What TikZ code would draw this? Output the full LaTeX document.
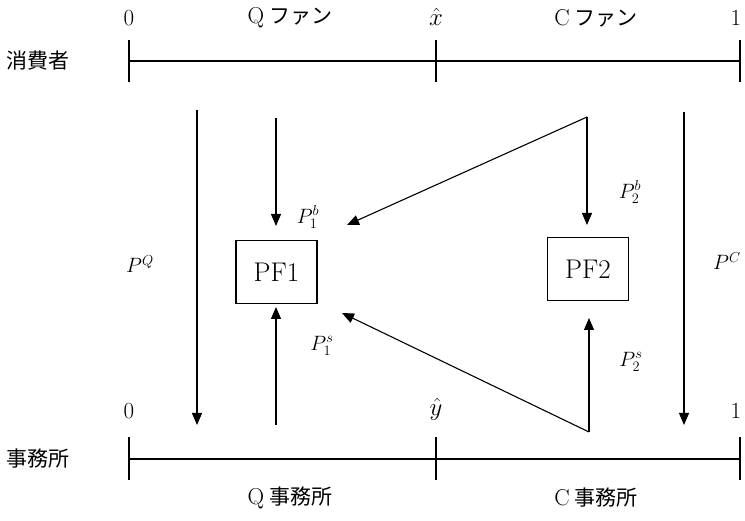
\documentclass[tikz,border=0pt]{standalone}
\usepackage{fontspec}
\newfontfamily\jp{Noto Sans CJK JP}
\usetikzlibrary{arrows.meta}
\begin{document}
\begin{tikzpicture}[x=1pt,y=-1pt,
  lbl/.style={inner sep=0pt,font=\fontsize{23}{26}\selectfont},
  jlbl/.style={inner sep=0pt,font=\fontsize{21}{24}\selectfont\jp},
  plbl/.style={inner sep=0pt,font=\fontsize{22}{24}\selectfont},
  axis/.style={line width=1.3pt},
  flow/.style={line width=1.1pt,-{Triangle[length=12pt,width=10pt]}},
  pfbox/.style={draw,line width=1.1pt,minimum width=81pt,minimum height=63pt,inner sep=0pt,font=\fontsize{27}{30}\selectfont}]
\useasboundingbox (0,0) rectangle (745,521);
% consumer axis
\coordinate (tl) at (129,61);
\coordinate (tr) at (740,61);
\draw[axis] (tl) -- (tr);
\draw[axis] (129,40) -- (129,82);
\draw[axis] (436,40) -- (436,82);
\draw[axis] (740,40) -- (740,82);
\node[lbl] (t0) at (129,18) {0};
\node[lbl] (tx) at (436,17) {$\hat{x}$};
\node[lbl] (t1) at (736,18) {1};
\node[jlbl] (qfan) at (290,18) {{\rmfamily\fontsize{23}{26}\selectfont Q}\hspace{5pt}ファン};
\node[jlbl] (cfan) at (596,18) {{\rmfamily\fontsize{23}{26}\selectfont C}\hspace{5pt}ファン};
\node[jlbl] (cons) at (38,61) {消費者};
% office axis
\coordinate (bl) at (129,459);
\coordinate (br) at (740,459);
\draw[axis] (bl) -- (br);
\draw[axis] (129,437) -- (129,480);
\draw[axis] (436,437) -- (436,480);
\draw[axis] (740,437) -- (740,480);
\node[lbl] (b0) at (129,411) {0};
\node[lbl] (by) at (436,409) {$\hat{y}$};
\node[lbl] (b1) at (736,411) {1};
\node[jlbl] (qoff) at (290,498) {{\rmfamily\fontsize{23}{26}\selectfont Q}\hspace{5pt}事務所};
\node[jlbl] (coff) at (596,498) {{\rmfamily\fontsize{23}{26}\selectfont C}\hspace{5pt}事務所};
\node[jlbl] (off) at (38,459) {事務所};
% boxes
\node[pfbox] (pf1) at (276.5,272) {PF1};
\node[pfbox] (pf2) at (588,269) {PF2};
% arrow endpoints
\coordinate (pqs) at (197,110);
\coordinate (pqe) at (197,425);
\coordinate (pcs) at (684,112);
\coordinate (pce) at (684,425);
\coordinate (a1s) at (276,118);
\coordinate (a1e) at (276,226);
\coordinate (s1s) at (276,425);
\coordinate (s1e) at (276,307);
\coordinate (apex) at (587,117);
\coordinate (a2e) at (587,225);
\coordinate (d1e) at (347,225);
\coordinate (bot) at (589,432);
\coordinate (s2e) at (589,318);
\coordinate (d2e) at (342,313);
\draw[flow] (pqs) -- (pqe);
\draw[flow] (pcs) -- (pce);
\draw[flow] (a1s) -- (a1e);
\draw[flow] (s1s) -- (s1e);
\draw[flow] (apex) -- (a2e);
\draw[flow] (apex) -- (d1e);
\draw[flow] (bot) -- (s2e);
\draw[flow] (bot) -- (d2e);
% price labels
\node[plbl] (pq) at (140,264) {$P^{Q}$};
\node[plbl] (pc) at (727,261) {$P^{C}$};
\node[plbl] (p1b) at (308,217) {$P_1^b$};
\node[plbl] (p1s) at (322,346) {$P_1^s$};
\node[plbl] (p2b) at (630,192) {$P_2^b$};
\node[plbl] (p2s) at (631,362) {$P_2^s$};
\end{tikzpicture}
\end{document}
